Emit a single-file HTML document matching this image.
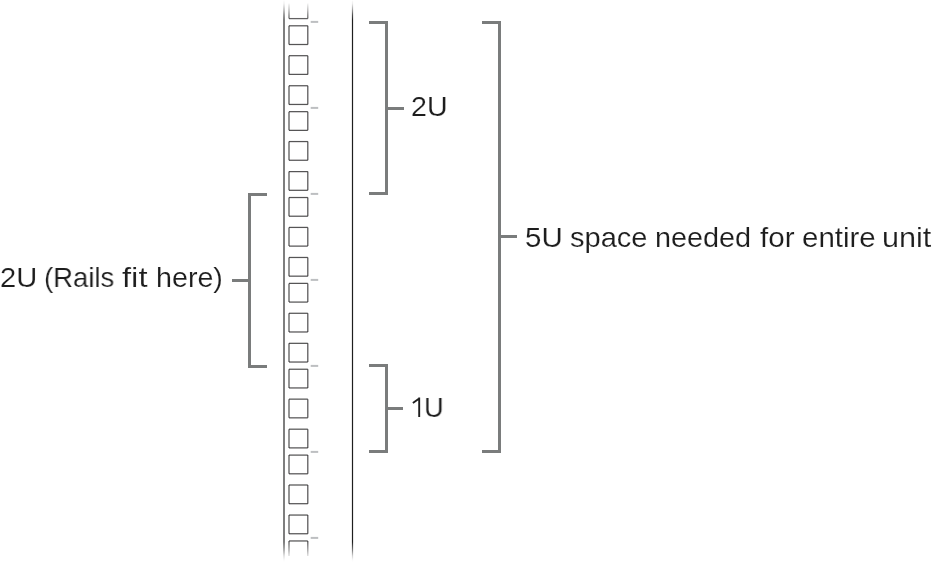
<!DOCTYPE html>
<html><head><meta charset="utf-8"><style>
html,body{margin:0;padding:0;background:#fff;}
body{width:938px;height:562px;position:relative;overflow:hidden;}
.t{position:absolute;font-family:"Liberation Sans",sans-serif;font-size:28.5px;line-height:34px;color:#1d1d1d;white-space:pre;will-change:transform;-webkit-text-stroke:0.15px #fff;}
</style></head><body>
<svg width="938" height="562" viewBox="0 0 938 562" style="position:absolute;left:0;top:0">
<defs>
<linearGradient id="fg" x1="0" y1="0" x2="0" y2="562" gradientUnits="userSpaceOnUse">
<stop offset="0.0000" stop-color="#fff" stop-opacity="0"/>
<stop offset="0.0071" stop-color="#fff" stop-opacity="0.1"/>
<stop offset="0.0178" stop-color="#fff" stop-opacity="0.45"/>
<stop offset="0.0267" stop-color="#fff" stop-opacity="0.78"/>
<stop offset="0.0356" stop-color="#fff" stop-opacity="1"/>
<stop offset="0.9644" stop-color="#fff" stop-opacity="1"/>
<stop offset="0.9786" stop-color="#fff" stop-opacity="0.6"/>
<stop offset="0.9893" stop-color="#fff" stop-opacity="0.2"/>
<stop offset="0.9964" stop-color="#fff" stop-opacity="0.03"/>
<stop offset="1.0000" stop-color="#fff" stop-opacity="0"/>
</linearGradient>
<mask id="m" maskUnits="userSpaceOnUse" x="0" y="0" width="938" height="562"><rect x="0" y="0" width="938" height="562" fill="url(#fg)"/></mask>
</defs>
<g mask="url(#m)">
<rect x="283" y="0" width="2" height="562" fill="#7e7e7e"/>
<rect x="351.9" y="0" width="1.2" height="562" fill="#1e1e1e"/>
<g fill="none" stroke="rgba(30,28,29,0.75)" stroke-width="1.25">
<path d="M289.00 18.59H307.80"/><path d="M289.00 3.5V18.59"/><path d="M307.80 3.5V18.59"/>
<path d="M289.00 25.80H307.80"/><path d="M289.00 44.50H307.80"/><path d="M289.00 25.80V44.50"/><path d="M307.80 25.80V44.50"/>
<path d="M289.00 55.70H307.80"/><path d="M289.00 74.40H307.80"/><path d="M289.00 55.70V74.40"/><path d="M307.80 55.70V74.40"/>
<path d="M289.00 85.75H307.80"/><path d="M289.00 104.45H307.80"/><path d="M289.00 85.75V104.45"/><path d="M307.80 85.75V104.45"/>
<path d="M289.00 111.66H307.80"/><path d="M289.00 130.36H307.80"/><path d="M289.00 111.66V130.36"/><path d="M307.80 111.66V130.36"/>
<path d="M289.00 141.56H307.80"/><path d="M289.00 160.26H307.80"/><path d="M289.00 141.56V160.26"/><path d="M307.80 141.56V160.26"/>
<path d="M289.00 171.61H307.80"/><path d="M289.00 190.31H307.80"/><path d="M289.00 171.61V190.31"/><path d="M307.80 171.61V190.31"/>
<path d="M289.00 197.52H307.80"/><path d="M289.00 216.22H307.80"/><path d="M289.00 197.52V216.22"/><path d="M307.80 197.52V216.22"/>
<path d="M289.00 227.42H307.80"/><path d="M289.00 246.12H307.80"/><path d="M289.00 227.42V246.12"/><path d="M307.80 227.42V246.12"/>
<path d="M289.00 257.47H307.80"/><path d="M289.00 276.17H307.80"/><path d="M289.00 257.47V276.17"/><path d="M307.80 257.47V276.17"/>
<path d="M289.00 283.38H307.80"/><path d="M289.00 302.08H307.80"/><path d="M289.00 283.38V302.08"/><path d="M307.80 283.38V302.08"/>
<path d="M289.00 313.28H307.80"/><path d="M289.00 331.98H307.80"/><path d="M289.00 313.28V331.98"/><path d="M307.80 313.28V331.98"/>
<path d="M289.00 343.33H307.80"/><path d="M289.00 362.03H307.80"/><path d="M289.00 343.33V362.03"/><path d="M307.80 343.33V362.03"/>
<path d="M289.00 369.24H307.80"/><path d="M289.00 387.94H307.80"/><path d="M289.00 369.24V387.94"/><path d="M307.80 369.24V387.94"/>
<path d="M289.00 399.14H307.80"/><path d="M289.00 417.84H307.80"/><path d="M289.00 399.14V417.84"/><path d="M307.80 399.14V417.84"/>
<path d="M289.00 429.19H307.80"/><path d="M289.00 447.89H307.80"/><path d="M289.00 429.19V447.89"/><path d="M307.80 429.19V447.89"/>
<path d="M289.00 455.10H307.80"/><path d="M289.00 473.80H307.80"/><path d="M289.00 455.10V473.80"/><path d="M307.80 455.10V473.80"/>
<path d="M289.00 485.00H307.80"/><path d="M289.00 503.70H307.80"/><path d="M289.00 485.00V503.70"/><path d="M307.80 485.00V503.70"/>
<path d="M289.00 515.05H307.80"/><path d="M289.00 533.75H307.80"/><path d="M289.00 515.05V533.75"/><path d="M307.80 515.05V533.75"/>
<path d="M289.00 540.96H307.80"/><path d="M289.00 540.96V556"/><path d="M307.80 540.96V556"/>
</g>
<g fill="#bdbfc1">
<rect x="310.7" y="20.90" width="7.5" height="2"/>
<rect x="310.7" y="106.90" width="7.5" height="2"/>
<rect x="310.7" y="192.90" width="7.5" height="2"/>
<rect x="310.7" y="278.90" width="7.5" height="2"/>
<rect x="310.7" y="364.90" width="7.5" height="2"/>
<rect x="310.7" y="450.90" width="7.5" height="2"/>
<rect x="310.7" y="536.90" width="7.5" height="2"/>
</g>
</g>
<g fill="#7a7c7c">
<!-- top 2U bracket -->
<rect x="369" y="21" width="19" height="3"/>
<rect x="385" y="21" width="3" height="174"/>
<rect x="369" y="192" width="19" height="3"/>
<rect x="388" y="107" width="16" height="3"/>
<!-- 1U bracket -->
<rect x="369" y="364" width="19" height="3"/>
<rect x="385" y="364" width="3" height="89"/>
<rect x="369" y="450" width="19" height="3"/>
<rect x="388" y="407" width="15" height="3"/>
<!-- 5U bracket -->
<rect x="482" y="21" width="19" height="3"/>
<rect x="498" y="21" width="3" height="432"/>
<rect x="482" y="450" width="19" height="3"/>
<rect x="501" y="235" width="16" height="3"/>
<!-- left 2U bracket -->
<rect x="248" y="193" width="19" height="3"/>
<rect x="248" y="193" width="3" height="175"/>
<rect x="248" y="365" width="19" height="3"/>
<rect x="232" y="279" width="16" height="3"/>
</g>
</svg>
<svg width="938" height="562" style="position:absolute;left:0;top:0"><path d="M412.9 403 L419.2 398.4 M419.2 397.6 L419.2 416.9" stroke="#1d1d1d" stroke-width="1.9" fill="none"/></svg>
<div class="t" style="left:524.75px;top:220px;transform-origin:0 0;transform:scaleX(1.0344)">5U</div>
<div class="t" style="left:570.33px;top:220px;transform-origin:0 0;transform:scaleX(1.0195)">space</div>
<div class="t" style="left:654.50px;top:220px;transform-origin:0 0;transform:scaleX(1.0107)">needed</div>
<div class="t" style="left:760.16px;top:220px;transform-origin:0 0;transform:scaleX(1.0389)">for</div>
<div class="t" style="left:801.77px;top:220px;transform-origin:0 0;transform:scaleX(1.0346)">entire</div>
<div class="t" style="left:881.79px;top:220px;transform-origin:0 0;transform:scaleX(1.0741)">unit</div>
<div class="t" style="left:-0.05px;top:260px;transform-origin:0 0;transform:scaleX(1.0218)">2U</div>
<div class="t" style="left:43.89px;top:260px;transform-origin:0 0;transform:scaleX(0.9652)">(Rails</div>
<div class="t" style="left:122.24px;top:260px;transform-origin:0 0;transform:scaleX(1.1499)">fit</div>
<div class="t" style="left:155.86px;top:260px;transform-origin:0 0;transform:scaleX(1.0055)">here)</div>
<div class="t" style="left:410.83px;top:89px;transform-origin:0 0;transform:scaleX(1.0031)">2U</div>
<div class="t" style="left:423.69px;top:390px;transform-origin:0 0;transform:scaleX(0.9563)">U</div>
</body></html>
